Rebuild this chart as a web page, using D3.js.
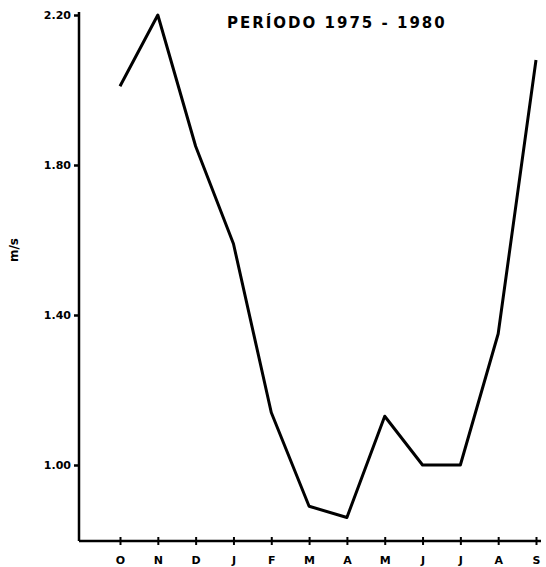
<!DOCTYPE html>
<html>
<head>
<meta charset="utf-8">
<script src="https://cdn.jsdelivr.net/npm/d3@7"></script>
<style>
  body { margin: 0; background: #fff; }
  text { font-family: "DejaVu Sans", sans-serif; font-weight: bold; fill: #000; }
</style>
</head>
<body>
<script>
// monthly mean values, hydrological year oct -> sep
var months = ["oct", "nov", "dec", "jan", "feb", "mar", "apr", "may", "jun", "jul", "aug", "sep"];
var monthLabels = ["O", "N", "D", "J", "F", "M", "A", "M", "J", "J", "A", "S"];
var speeds = [2.01, 2.20, 1.85, 1.59, 1.14, 0.89, 0.86, 1.13, 1.00, 1.00, 1.35, 2.08];
var yTicks = [1.00, 1.40, 1.80, 2.20];

var w = 546, h = 567;

var svg = d3.select("body").append("svg")
  .attr("width", w)
  .attr("height", h);

var x = d3.scalePoint().domain(months).range([120, 536]);
var y = d3.scaleLinear().domain([0.8, 2.2]).range([540, 15]);

// y axis
var yAxis = svg.append("g")
  .attr("transform", "translate(79,0)")
  .call(d3.axisLeft(y).tickValues(yTicks).tickFormat(d3.format(".2f")).tickSize(5).tickSizeOuter(0));
yAxis.select(".domain").attr("d", "M0,12V541").attr("stroke-width", 2.5);
yAxis.selectAll(".tick line").attr("stroke-width", 2.5);
yAxis.selectAll(".tick text").attr("font-size", 11).attr("x", -8);

// x axis
var xAxis = svg.append("g")
  .attr("transform", "translate(0,541)")
  .call(d3.axisBottom(x).tickFormat(function(d, i){ return monthLabels[i]; }).tickSize(4).tickSizeOuter(0));
xAxis.select(".domain").attr("d", "M79,0H541").attr("stroke-width", 2.5);
xAxis.selectAll(".tick line").attr("stroke-width", 2).attr("y1", -4);
xAxis.selectAll(".tick text").attr("font-size", 11).attr("y", 15);

// the curve
var line = d3.line()
  .x(function(d, i){ return x(months[i]); })
  .y(function(d){ return y(d); });

svg.append("path")
  .datum(speeds)
  .attr("d", line)
  .attr("fill", "none")
  .attr("stroke", "#000")
  .attr("stroke-width", 3)
  .attr("stroke-linejoin", "round");

// title
svg.append("text")
  .attr("x", 227)
  .attr("y", 28)
  .attr("font-size", 15)
  .attr("letter-spacing", 2)
  .text("PERÍODO  1975 - 1980");

// units
svg.append("text")
  .attr("transform", "translate(18,250) rotate(-90)")
  .attr("text-anchor", "middle")
  .attr("font-size", 12)
  .text("m/s");
</script>
</body>
</html>
